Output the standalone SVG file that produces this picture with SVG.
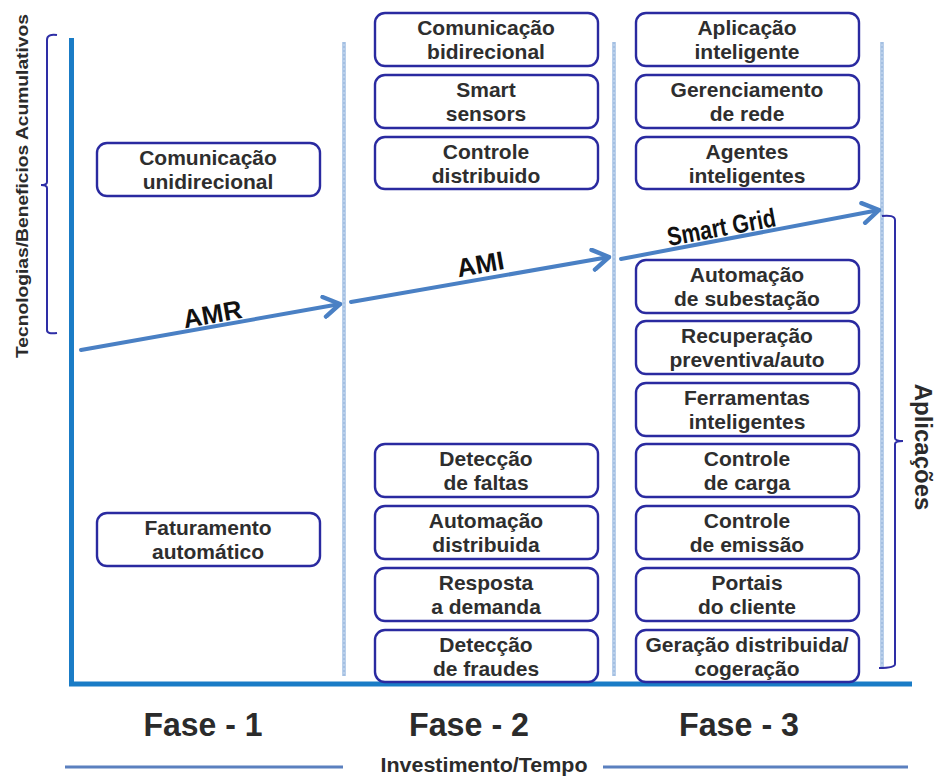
<svg xmlns="http://www.w3.org/2000/svg" width="939" height="776" viewBox="0 0 939 776">
  <defs>
    <style>
      .box { fill: #ffffff; stroke: #2a2aa0; stroke-width: 2.4; }
      .lbl { font-family: "Liberation Sans", Arial, sans-serif; font-weight: bold; font-size: 21px; fill: #2e2e2e; text-anchor: middle; }
      .phase { font-family: "Liberation Sans", Arial, sans-serif; font-weight: bold; font-size: 33px; fill: #2b2b2b; text-anchor: middle; }
      .axis-lbl { font-family: "Liberation Sans", Arial, sans-serif; font-weight: bold; fill: #2b2b2b; text-anchor: middle; }
      .arrow-lbl { font-family: "Liberation Sans", Arial, sans-serif; font-weight: bold; font-size: 26px; fill: #111111; text-anchor: middle; }
      .sep { stroke: #b9cfea; stroke-width: 4; }
      .sep-dot { stroke: #8fb0da; stroke-width: 1; stroke-dasharray: 2 2; }
      .flow { stroke: #4a80c4; stroke-width: 4; fill: none; stroke-linecap: round; }
      .brace { stroke: #2e2ea6; stroke-width: 2; fill: none; }
    </style>
    <marker id="chev" viewBox="0 0 12 12" refX="10" refY="6" markerWidth="6" markerHeight="6" orient="auto" markerUnits="strokeWidth">
      <path d="M2,1 L10,6 L2,11" fill="none" stroke="#4a80c4" stroke-width="2.2" stroke-linecap="round" stroke-linejoin="round"/>
    </marker>
  </defs>

  <rect width="939" height="776" fill="#ffffff"/>

  <!-- phase separators -->
  <g id="separators">
    <line class="sep" x1="344" y1="42" x2="344" y2="676"/>
    <line class="sep-dot" x1="344" y1="42" x2="344" y2="676"/>
    <line class="sep" x1="614" y1="42" x2="614" y2="676"/>
    <line class="sep-dot" x1="614" y1="42" x2="614" y2="676"/>
    <line class="sep" x1="882" y1="42" x2="882" y2="668"/>
    <line class="sep-dot" x1="882" y1="42" x2="882" y2="668"/>
  </g>

  <!-- axes -->
  <g id="axes">
    <path d="M71.5,38 L71.5,684 L912,684" fill="none" stroke="#1a7cc6" stroke-width="5"/>
    <line x1="65" y1="767" x2="343" y2="767" stroke="#5b80bf" stroke-width="3"/>
    <line x1="603" y1="767" x2="908" y2="767" stroke="#5b80bf" stroke-width="3"/>
    <text class="axis-lbl" x="484" y="772" font-size="20" textLength="207" lengthAdjust="spacingAndGlyphs">Investimento/Tempo</text>
    <text class="axis-lbl" font-size="17" transform="translate(28,186) rotate(-90)" textLength="344" lengthAdjust="spacingAndGlyphs">Tecnologias/Beneficios Acumulativos</text>
    <text class="axis-lbl" font-size="24" transform="translate(915,447) rotate(90)">Aplicações</text>
    <path class="brace" d="M57,35 C50,34 47,36 47,40 L47,182 C47,184 45,185 41,185 C45,185 47,186 47,188 L47,330 C47,333 50,334 57,333"/>
    <path class="brace" d="M882,216 C889,215 895,216 895,220 L895,438 C895,440 897,441 903,441 C897,441 895,442 895,444 L895,664 C895,667 889,668 879,668"/>
  </g>

  <!-- phase labels -->
  <g id="phases">
    <text class="phase" x="203" y="736" textLength="119" lengthAdjust="spacingAndGlyphs">Fase - 1</text>
    <text class="phase" x="469" y="736" textLength="120" lengthAdjust="spacingAndGlyphs">Fase - 2</text>
    <text class="phase" x="739" y="736" textLength="120" lengthAdjust="spacingAndGlyphs">Fase - 3</text>
  </g>

  <!-- evolution arrows -->
  <g id="connectors">
    <line class="flow" x1="81" y1="350" x2="340" y2="304" marker-end="url(#chev)"/>
    <line class="flow" x1="351" y1="302" x2="609" y2="257" marker-end="url(#chev)"/>
    <line class="flow" x1="621" y1="259" x2="879" y2="210" marker-end="url(#chev)"/>
    <text class="arrow-lbl" transform="translate(214,323) rotate(-10)">AMR</text>
    <text class="arrow-lbl" transform="translate(482,273) rotate(-10)">AMI</text>
    <text class="arrow-lbl" font-size="24" transform="translate(723,236) rotate(-10.5)" textLength="110" lengthAdjust="spacingAndGlyphs">Smart Grid</text>
  </g>

  <!-- Fase 1 -->
  <g id="n-com-uni"><rect class="box" x="97" y="143" width="223" height="53" rx="10"/><text class="lbl" x="208" y="165">Comunicação</text><text class="lbl" x="208" y="189">unidirecional</text></g>
  <g id="n-faturamento"><rect class="box" x="97" y="513" width="223" height="53" rx="10"/><text class="lbl" x="208" y="535">Faturamento</text><text class="lbl" x="208" y="559">automático</text></g>

  <!-- Fase 2 -->
  <g id="n-com-bi"><rect class="box" x="375" y="13" width="223" height="53" rx="10"/><text class="lbl" x="486" y="35">Comunicação</text><text class="lbl" x="486" y="59">bidirecional</text></g>
  <g id="n-sensors"><rect class="box" x="375" y="75" width="223" height="53" rx="10"/><text class="lbl" x="486" y="97">Smart</text><text class="lbl" x="486" y="121">sensors</text></g>
  <g id="n-controle-dist"><rect class="box" x="375" y="137" width="223" height="52" rx="10"/><text class="lbl" x="486" y="159">Controle</text><text class="lbl" x="486" y="183">distribuido</text></g>
  <g id="n-faltas"><rect class="box" x="375" y="444" width="223" height="53" rx="10"/><text class="lbl" x="486" y="466">Detecção</text><text class="lbl" x="486" y="490">de faltas</text></g>
  <g id="n-auto-dist"><rect class="box" x="375" y="506" width="223" height="53" rx="10"/><text class="lbl" x="486" y="528">Automação</text><text class="lbl" x="486" y="552">distribuida</text></g>
  <g id="n-resposta"><rect class="box" x="375" y="568" width="223" height="53" rx="10"/><text class="lbl" x="486" y="590">Resposta</text><text class="lbl" x="486" y="614">a demanda</text></g>
  <g id="n-fraudes"><rect class="box" x="375" y="630" width="223" height="52" rx="10"/><text class="lbl" x="486" y="652">Detecção</text><text class="lbl" x="486" y="676">de fraudes</text></g>

  <!-- Fase 3 -->
  <g id="n-app-int"><rect class="box" x="636" y="13" width="223" height="53" rx="10"/><text class="lbl" x="747" y="35">Aplicação</text><text class="lbl" x="747" y="59">inteligente</text></g>
  <g id="n-ger-rede"><rect class="box" x="636" y="75" width="223" height="53" rx="10"/><text class="lbl" x="747" y="97">Gerenciamento</text><text class="lbl" x="747" y="121">de rede</text></g>
  <g id="n-agentes"><rect class="box" x="636" y="137" width="223" height="52" rx="10"/><text class="lbl" x="747" y="159">Agentes</text><text class="lbl" x="747" y="183">inteligentes</text></g>
  <g id="n-subestacao"><rect class="box" x="636" y="260" width="223" height="53" rx="10"/><text class="lbl" x="747" y="282">Automação</text><text class="lbl" x="747" y="306">de subestação</text></g>
  <g id="n-recuperacao"><rect class="box" x="636" y="321" width="223" height="53" rx="10"/><text class="lbl" x="747" y="343">Recuperação</text><text class="lbl" x="747" y="367">preventiva/auto</text></g>
  <g id="n-ferramentas"><rect class="box" x="636" y="383" width="223" height="53" rx="10"/><text class="lbl" x="747" y="405">Ferramentas</text><text class="lbl" x="747" y="429">inteligentes</text></g>
  <g id="n-carga"><rect class="box" x="636" y="444" width="223" height="53" rx="10"/><text class="lbl" x="747" y="466">Controle</text><text class="lbl" x="747" y="490">de carga</text></g>
  <g id="n-emissao"><rect class="box" x="636" y="506" width="223" height="53" rx="10"/><text class="lbl" x="747" y="528">Controle</text><text class="lbl" x="747" y="552">de emissão</text></g>
  <g id="n-portais"><rect class="box" x="636" y="568" width="223" height="53" rx="10"/><text class="lbl" x="747" y="590">Portais</text><text class="lbl" x="747" y="614">do cliente</text></g>
  <g id="n-geracao"><rect class="box" x="636" y="630" width="223" height="52" rx="10"/><text class="lbl" x="747" y="652">Geração distribuida/</text><text class="lbl" x="747" y="676">cogeração</text></g>
</svg>
